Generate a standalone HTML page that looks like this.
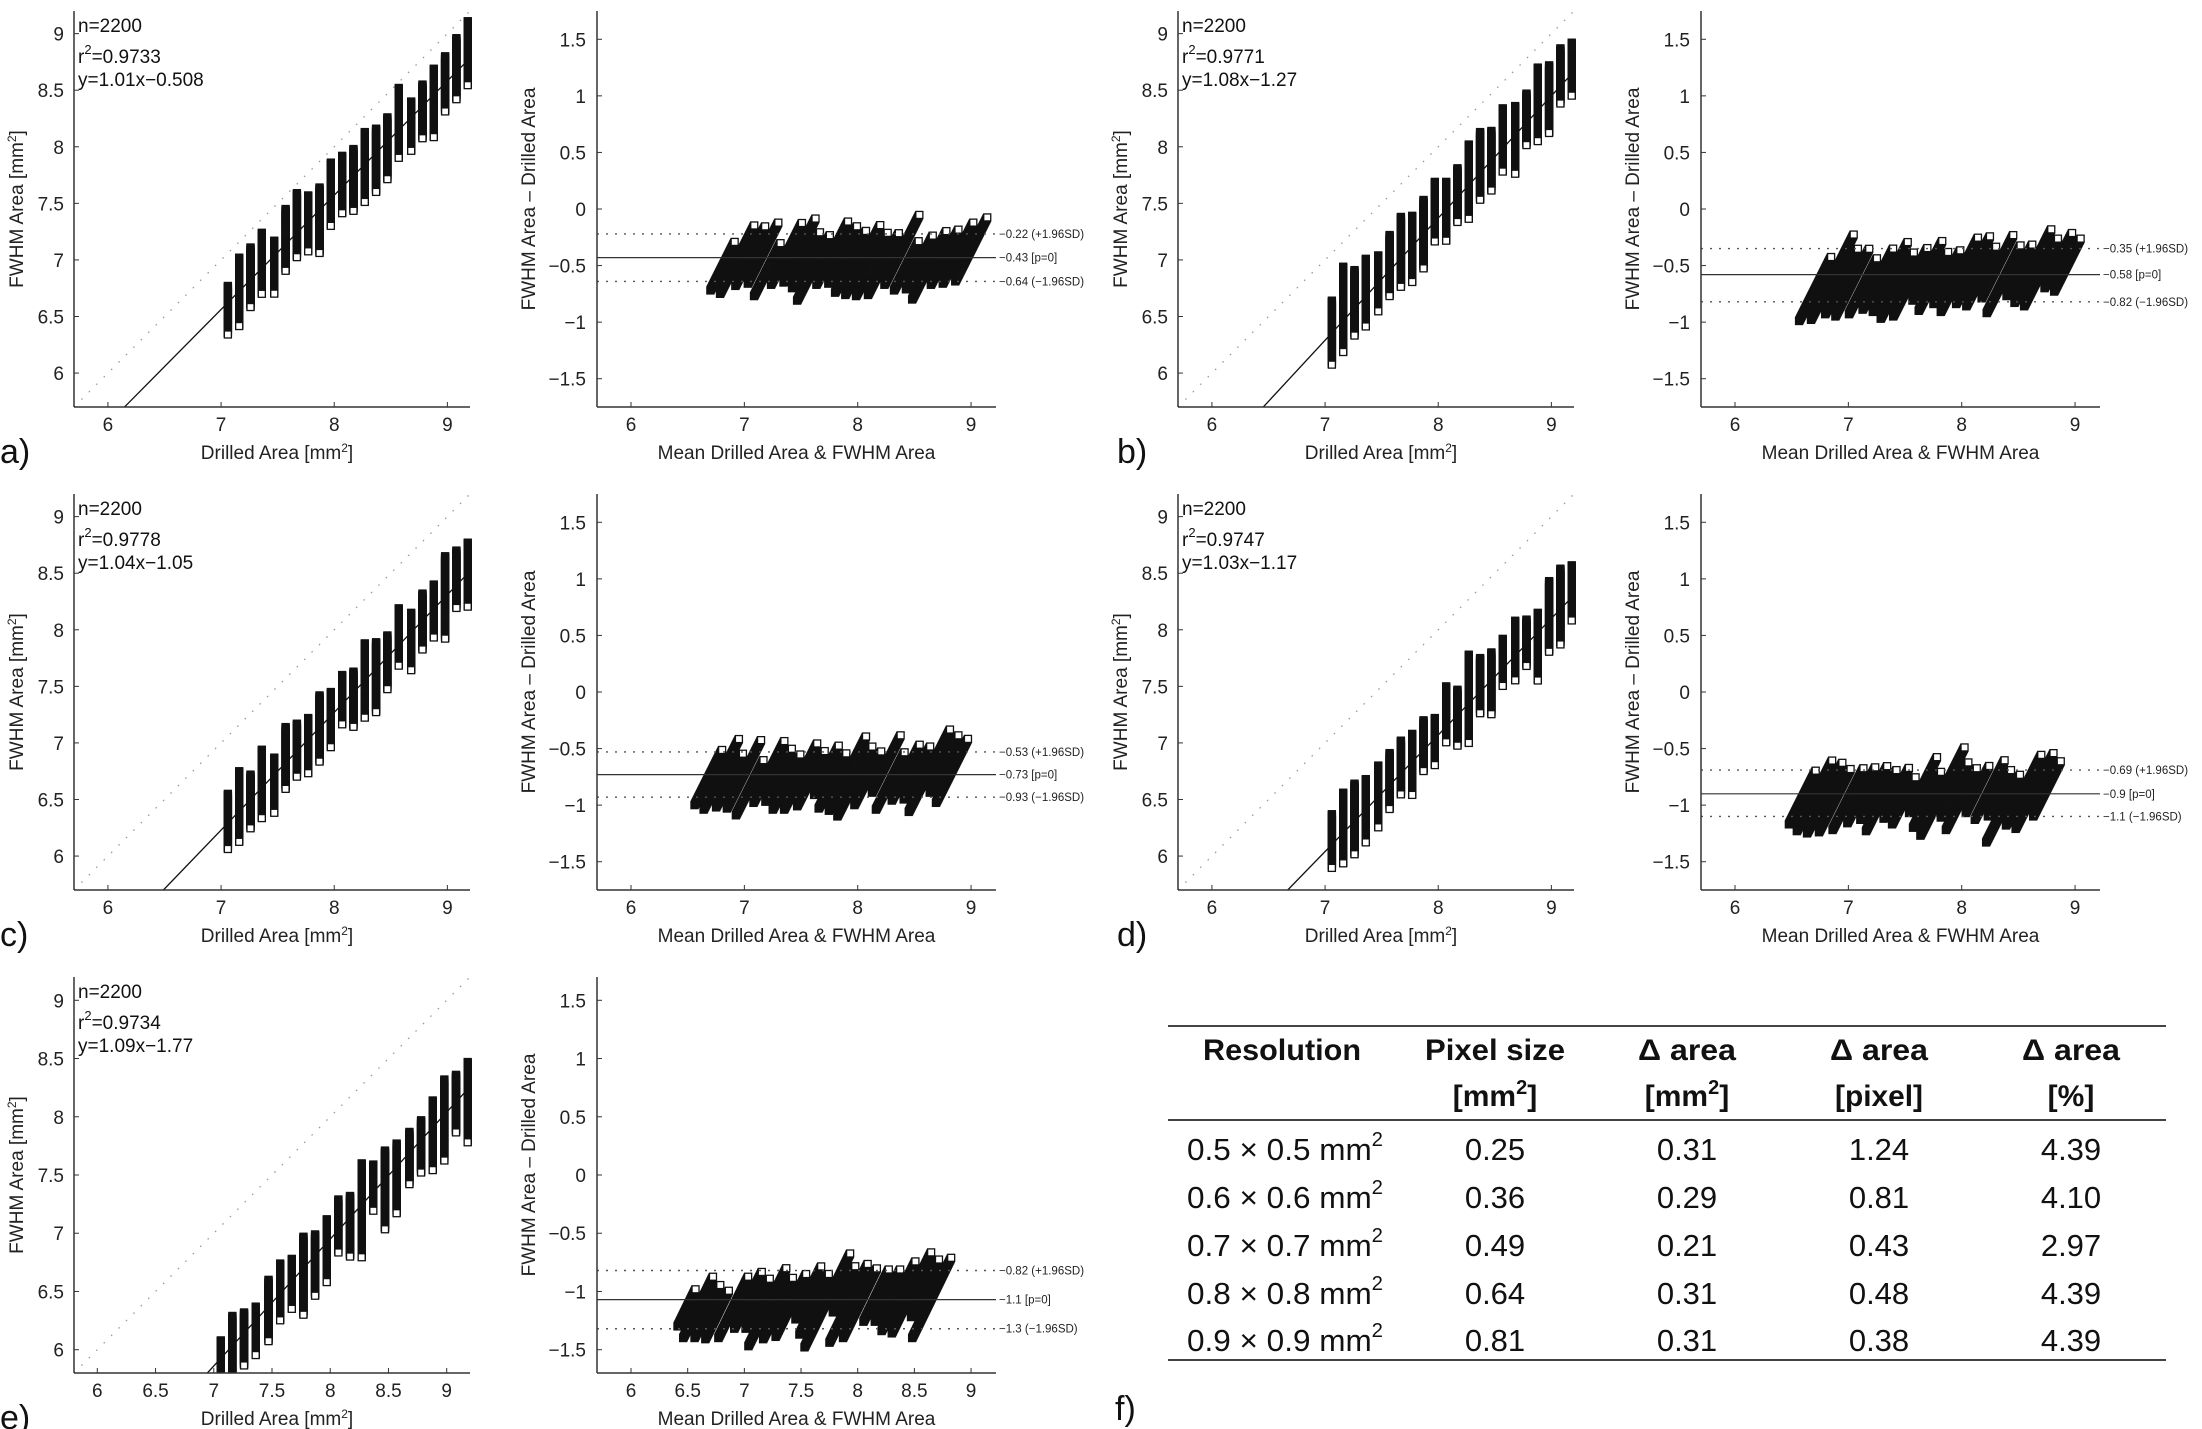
<!DOCTYPE html>
<html><head><meta charset="utf-8"><style>
html,body{margin:0;padding:0;background:#fff;}
svg{display:block;font-family:"Liberation Sans",sans-serif;}
</style></head><body>
<svg id="fig" width="2202" height="1429" viewBox="0 0 2202 1429" xmlns="http://www.w3.org/2000/svg">
<g id="panels"></g>
<g id="table-f" font-family="'Liberation Sans',sans-serif" fill="#111">
  <line x1="1168" y1="1026" x2="2166" y2="1026" stroke="#444" stroke-width="2"/>
  <line x1="1168" y1="1120" x2="2166" y2="1120" stroke="#444" stroke-width="2"/>
  <line x1="1168" y1="1360" x2="2166" y2="1360" stroke="#444" stroke-width="2"/>
  <g font-weight="bold" font-size="30" text-anchor="middle">
    <text x="1282" y="1060" textLength="158" lengthAdjust="spacingAndGlyphs">Resolution</text>
    <text x="1495" y="1060" textLength="140" lengthAdjust="spacingAndGlyphs">Pixel size</text>
    <text x="1495" y="1106">[mm<tspan font-size="20" dy="-12">2</tspan><tspan dy="12">]</tspan></text>
    <text x="1687" y="1060" textLength="98" lengthAdjust="spacingAndGlyphs">Δ area</text>
    <text x="1687" y="1106">[mm<tspan font-size="20" dy="-12">2</tspan><tspan dy="12">]</tspan></text>
    <text x="1879" y="1060" textLength="98" lengthAdjust="spacingAndGlyphs">Δ area</text>
    <text x="1879" y="1106" textLength="88" lengthAdjust="spacingAndGlyphs">[pixel]</text>
    <text x="2071" y="1060" textLength="98" lengthAdjust="spacingAndGlyphs">Δ area</text>
    <text x="2071" y="1106">[%]</text>
  </g>
  <g id="table-rows" font-size="31" text-anchor="middle"></g>
  <text x="1115" y="1420" font-size="34">f)</text>
</g>
</svg>
<script>
// ---- shared data ----
const drilled = [7.06,7.16,7.26,7.36,7.47,7.57,7.67,7.77,7.87,7.97,8.07,8.17,8.27,8.37,8.47,8.57,8.68,8.78,8.88,8.98,9.08,9.18];
// panel a
const fwhmMaxA = [6.77,7.02,7.11,7.24,7.17,7.45,7.59,7.57,7.64,7.86,7.92,7.98,8.13,8.16,8.26,8.52,8.40,8.55,8.69,8.80,8.96,9.11];
const fwhmMinA = [6.34,6.41,6.58,6.70,6.70,6.90,7.02,7.07,7.06,7.30,7.41,7.43,7.51,7.60,7.71,7.90,7.96,8.07,8.08,8.31,8.42,8.54];
// panel b
const fwhmMaxB = [6.64,6.94,6.91,7.01,7.04,7.22,7.38,7.39,7.53,7.69,7.69,7.81,8.02,8.13,8.14,8.34,8.36,8.47,8.70,8.72,8.87,8.92];
const fwhmMinB = [6.07,6.18,6.33,6.41,6.54,6.68,6.76,6.80,6.92,7.16,7.17,7.33,7.36,7.53,7.61,7.78,7.76,8.01,8.05,8.12,8.38,8.45];
// panel c
const fwhmMaxC = [6.55,6.75,6.72,6.94,6.87,7.14,7.17,7.22,7.42,7.45,7.60,7.63,7.88,7.89,7.95,8.19,8.15,8.32,8.40,8.65,8.70,8.77];
const fwhmMinC = [6.06,6.12,6.24,6.33,6.38,6.59,6.70,6.73,6.83,6.96,7.16,7.14,7.22,7.27,7.47,7.68,7.64,7.82,7.93,7.92,8.19,8.20];
// panel d
const fwhmMaxD = [6.37,6.56,6.64,6.68,6.80,6.91,7.02,7.08,7.20,7.22,7.50,7.47,7.78,7.75,7.80,7.92,8.08,8.09,8.15,8.43,8.54,8.57];
const fwhmMinD = [5.89,5.93,6.01,6.12,6.25,6.41,6.54,6.54,6.75,6.80,7.00,6.97,7.00,7.26,7.25,7.50,7.55,7.68,7.55,7.80,7.87,8.08];
// panel e
const fwhmMaxE = [6.08,6.29,6.32,6.37,6.60,6.74,6.78,6.97,6.99,7.12,7.29,7.32,7.60,7.59,7.71,7.77,7.87,7.97,8.14,8.32,8.36,8.47];
const fwhmMinE = [5.76,5.76,5.86,5.95,6.07,6.25,6.35,6.30,6.46,6.58,6.83,6.80,6.79,7.19,7.03,7.17,7.42,7.52,7.54,7.62,7.86,7.78];
// regression / stats
const panelLetters = ["a","b","c","d","e"];
const nValues = ["2200","2200","2200","2200","2200"];
const r2Values = ["0.9733","0.9771","0.9778","0.9747","0.9734"];
const slopes = [1.01,1.08,1.04,1.03,1.09];
const intercepts = [-0.508,-1.27,-1.05,-1.17,-1.77];
const interceptLabels = ["0.508","1.27","1.05","1.17","1.77"];
// Bland-Altman lines
const meanDiff = [-0.43,-0.58,-0.73,-0.90,-1.07];
const upperLoA = [-0.22,-0.35,-0.53,-0.69,-0.82];
const lowerLoA = [-0.64,-0.82,-0.93,-1.10,-1.32];
const meanLabels = ["−0.43 [p=0]","−0.58 [p=0]","−0.73 [p=0]","−0.9 [p=0]","−1.1 [p=0]"];
const upperLabels = ["−0.22 (+1.96SD)","−0.35 (+1.96SD)","−0.53 (+1.96SD)","−0.69 (+1.96SD)","−0.82 (+1.96SD)"];
const lowerLabels = ["−0.64 (−1.96SD)","−0.82 (−1.96SD)","−0.93 (−1.96SD)","−1.1 (−1.96SD)","−1.3 (−1.96SD)"];
// ticks
const scatterTicks = [6,7,8,9];
const scatterTicksE = [6,6.5,7,7.5,8,8.5,9];
const scatterYTicks = [6,6.5,7,7.5,8,8.5,9];
const baXTicks = [6,7,8,9];
const baXTicksE = [6,6.5,7,7.5,8,8.5,9];
const baYTicks = [-1.5,-1,-0.5,0,0.5,1,1.5];
// table
const tableRes = ["0.5 × 0.5 mm","0.6 × 0.6 mm","0.7 × 0.7 mm","0.8 × 0.8 mm","0.9 × 0.9 mm"];
const tablePix = ["0.25","0.36","0.49","0.64","0.81"];
const tableDmm = ["0.31","0.29","0.21","0.31","0.31"];
const tableDpx = ["1.24","0.81","0.43","0.48","0.38"];
const tableDpc = ["4.39","4.10","2.97","4.39","4.39"];

const NS = "http://www.w3.org/2000/svg";
function mk(tag, attrs, parent){const e=document.createElementNS(NS,tag);for(const k in attrs)e.setAttribute(k,attrs[k]);if(parent)parent.appendChild(e);return e;}
function fmt(v){return (v<0?"−":"")+Math.abs(v);}

const maxArrs=[fwhmMaxA,fwhmMaxB,fwhmMaxC,fwhmMaxD,fwhmMaxE];
const minArrs=[fwhmMinA,fwhmMinB,fwhmMinC,fwhmMinD,fwhmMinE];
const root=document.getElementById('panels');
const W=396,H=396,STEP=0.0065,MS=7;

for(let p=0;p<5;p++){
  const col=p%2,row=Math.floor(p/2);
  const cx=col*1104, ry=row*483;
  const isE=p===4;
  const g=mk('g',{},root);
  
  
  // ---------- scatter ----------
  const L=74+cx, T=11+ry, B=T+H;
  const lo=isE?5.8:5.7, hi=isE?9.2:9.2;
  const sx=v=>L+(v-lo)/(hi-lo)*W, sy=v=>B-(v-lo)/(hi-lo)*H;
  const sg=mk('g',{},g);
  
  
  const clipId='clipS'+p;
  const cp=mk('clipPath',{id:clipId},sg);mk('rect',{x:L,y:T-4,width:W+4,height:H+4},cp);
  const inner=mk('g',{'clip-path':'url(#'+clipId+')'},sg);
  const idl=mk('line',{x1:sx(lo),y1:sy(lo),x2:sx(hi),y2:sy(hi),stroke:'#999','stroke-width':1.3,'stroke-dasharray':'1.5 9'},inner);
  
  
  const mx=minArrs[p],Mx=maxArrs[p];
  for(let i=0;i<drilled.length;i++){
    const cg=mk('g',{fill:'#fff',stroke:'#111','stroke-width':1.3},inner);
    
    
    for(let y=Mx[i];y>=mx[i]-1e-9;y-=STEP){
      mk('rect',{x:sx(drilled[i])-MS/2,y:sy(y)-MS/2,width:MS,height:MS},cg);
    }
  }
  const x0=Math.max(lo,(lo-intercepts[p])/slopes[p]), x1=9.15;
  const rl=mk('line',{x1:sx(x0),y1:sy(slopes[p]*x0+intercepts[p]),x2:sx(x1),y2:sy(slopes[p]*x1+intercepts[p]),stroke:'#111','stroke-width':1.3},inner);
  
  
  // axes
  mk('line',{x1:L,y1:T,x2:L,y2:B,stroke:'#333','stroke-width':1.5},sg);
  mk('line',{x1:L,y1:B,x2:L+W,y2:B,stroke:'#333','stroke-width':1.5},sg);
  const xt=isE?scatterTicksE:scatterTicks;
  xt.forEach(t=>{mk('line',{x1:sx(t),y1:B,x2:sx(t),y2:B-5,stroke:'#333'},sg);
    const tx=mk('text',{x:sx(t),y:B+24,'text-anchor':'middle','font-size':19,fill:'#222'},sg);tx.textContent=t;
    });
  scatterYTicks.forEach(t=>{mk('line',{x1:L,y1:sy(t),x2:L+5,y2:sy(t),stroke:'#333'},sg);
    const tx=mk('text',{x:L-10,y:sy(t)+7,'text-anchor':'end','font-size':19,fill:'#222'},sg);tx.textContent=t;
    });
  const xtt=mk('text',{x:L+W/2+5,y:B+52,'text-anchor':'middle','font-size':19,fill:'#222'},sg);
  xtt.innerHTML='Drilled Area [mm<tspan font-size="12" dy="-7">2</tspan><tspan dy="7">]</tspan>';
  
  const ytt=mk('text',{x:0,y:0,'text-anchor':'middle','font-size':19,fill:'#222',transform:'translate('+(L-51)+','+(T+H/2)+') rotate(-90)'},sg);
  ytt.innerHTML='FWHM Area [mm<tspan font-size="12" dy="-7">2</tspan><tspan dy="7">]</tspan>';
  
  const st=mk('g',{'font-size':19,fill:'#111'},sg);
  
  mk('text',{x:L+4,y:T+21},st).textContent='n='+nValues[p];
  mk('text',{x:L+4,y:T+52},st).innerHTML='r<tspan font-size="13" dy="-9">2</tspan><tspan dy="9">='+r2Values[p]+'</tspan>';
  mk('text',{x:L+4,y:T+75},st).textContent='y='+slopes[p]+'x−'+interceptLabels[p];
  const pl=mk('text',{x:cx+(col?13:0),y:B+56,'font-size':34,fill:'#111'},g);
  pl.textContent=panelLetters[p]+')';
  

  // ---------- Bland-Altman ----------
  const BL=597+cx, BW=399;
  const bxlo=5.7,bxhi=9.22, bylo=isE?-1.7:-1.75, byhi=isE?1.7:1.75;
  const bx=v=>BL+(v-bxlo)/(bxhi-bxlo)*BW, by=v=>B-(v-bylo)/(byhi-bylo)*H;
  const bg=mk('g',{},g);
  
  
  for(let i=0;i<drilled.length;i++){
    const cg=mk('g',{fill:'#fff',stroke:'#111','stroke-width':1.3},bg);
    
    
    for(let y=mx[i];y<=Mx[i]+1e-9;y+=STEP){
      mk('rect',{x:bx((drilled[i]+y)/2)-MS/2,y:by(y-drilled[i])-MS/2,width:MS,height:MS},cg);
    }
  }
  const lines=[[meanDiff[p],meanLabels[p],'mean-difference-line',null],[upperLoA[p],upperLabels[p],'upper-limit-line','2 7'],[lowerLoA[p],lowerLabels[p],'lower-limit-line','2 7']];
  lines.forEach(([v,lab,nm,da])=>{
    const a={x1:BL,y1:by(v),x2:BL+BW,y2:by(v),stroke:da?'#555':'#333','stroke-width':da?1.4:1.2};
    if(da)a['stroke-dasharray']=da;
    const ln=mk('line',a,bg);
    
    const tx=mk('text',{x:BL+BW+3,y:by(v)+4,'font-size':11.5,fill:'#222'},bg);tx.textContent=lab;
    
  });
  mk('line',{x1:BL,y1:T,x2:BL,y2:B,stroke:'#333','stroke-width':1.5},bg);
  mk('line',{x1:BL,y1:B,x2:BL+BW,y2:B,stroke:'#333','stroke-width':1.5},bg);
  (isE?baXTicksE:baXTicks).forEach(t=>{mk('line',{x1:bx(t),y1:B,x2:bx(t),y2:B-5,stroke:'#333'},bg);
    const tx=mk('text',{x:bx(t),y:B+24,'text-anchor':'middle','font-size':19,fill:'#222'},bg);tx.textContent=t;
    });
  baYTicks.forEach(t=>{mk('line',{x1:BL,y1:by(t),x2:BL+5,y2:by(t),stroke:'#333'},bg);
    const tx=mk('text',{x:BL-11,y:by(t)+7,'text-anchor':'end','font-size':19,fill:'#222'},bg);tx.textContent=fmt(t);
    });
  const bxt=mk('text',{x:BL+BW/2,y:B+52,'text-anchor':'middle','font-size':19,fill:'#222'},bg);
  bxt.textContent='Mean Drilled Area & FWHM Area';
  
  const byt=mk('text',{x:0,y:0,'text-anchor':'middle','font-size':19,fill:'#222',transform:'translate('+(BL-62)+','+(T+H/2-10)+') rotate(-90)'},bg);
  byt.textContent='FWHM Area – Drilled Area';
  
}

// table rows
const tr=document.getElementById('table-rows');
const rowY=[1160,1208,1256,1304,1351];
for(let i=0;i<5;i++){
  const t1=mk('text',{x:1285,y:rowY[i],textLength:196,lengthAdjust:'spacingAndGlyphs'},tr);
  t1.innerHTML=tableRes[i]+'<tspan font-size="20" dy="-14">2</tspan>';
  
  [[1495,tablePix],[1687,tableDmm],[1879,tableDpx],[2071,tableDpc]].forEach(([x,arr])=>{
    const t=mk('text',{x:x,y:rowY[i]},tr);t.textContent=arr[i];
    
  });
}
</script>
</body></html>
